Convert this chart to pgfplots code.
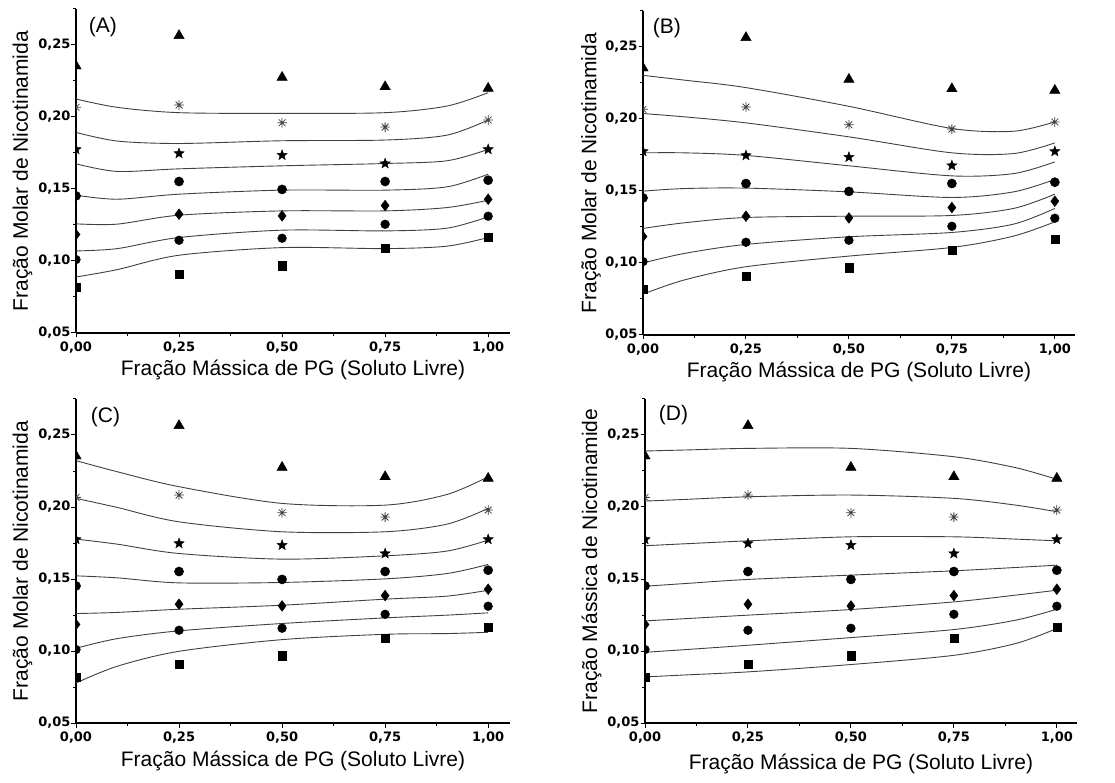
\documentclass[border=0pt]{standalone}
\usepackage{fontspec}
\setmainfont{Liberation Sans}
\newfontfamily\dejavu{DejaVu Sans}
\usepackage{pgfplots}
\usepackage{pgfplotstable}
\pgfplotsset{compat=1.18}
\usetikzlibrary{plotmarks}

% filled five-pointed star
\pgfdeclareplotmark{fstar}{%
  \pgfpathmoveto{\pgfpointpolar{90}{\pgfplotmarksize}}%
  \pgfpathlineto{\pgfpointpolar{126}{0.42\pgfplotmarksize}}%
  \pgfpathlineto{\pgfpointpolar{162}{\pgfplotmarksize}}%
  \pgfpathlineto{\pgfpointpolar{198}{0.42\pgfplotmarksize}}%
  \pgfpathlineto{\pgfpointpolar{234}{\pgfplotmarksize}}%
  \pgfpathlineto{\pgfpointpolar{270}{0.42\pgfplotmarksize}}%
  \pgfpathlineto{\pgfpointpolar{306}{\pgfplotmarksize}}%
  \pgfpathlineto{\pgfpointpolar{342}{0.42\pgfplotmarksize}}%
  \pgfpathlineto{\pgfpointpolar{18}{\pgfplotmarksize}}%
  \pgfpathlineto{\pgfpointpolar{54}{0.42\pgfplotmarksize}}%
  \pgfpathclose
  \pgfusepathqfillstroke
}
% eight-ray asterisk
\pgfdeclareplotmark{ast8}{%
  \pgfpathmoveto{\pgfpointpolar{0}{\pgfplotmarksize}}\pgfpathlineto{\pgfpointpolar{180}{\pgfplotmarksize}}%
  \pgfpathmoveto{\pgfpointpolar{90}{\pgfplotmarksize}}\pgfpathlineto{\pgfpointpolar{270}{\pgfplotmarksize}}%
  \pgfpathmoveto{\pgfpointpolar{45}{\pgfplotmarksize}}\pgfpathlineto{\pgfpointpolar{225}{\pgfplotmarksize}}%
  \pgfpathmoveto{\pgfpointpolar{135}{\pgfplotmarksize}}\pgfpathlineto{\pgfpointpolar{315}{\pgfplotmarksize}}%
  \pgfusepathqstroke
}

% experimental points (same in every panel)
\pgfplotstableread{
x    tri    ast    sta    cu     dia    cl     sq
0    0.2354 0.2067 0.1775 0.1452 0.1184 0.1010 0.0820
0.25 0.2565 0.2083 0.1747 0.1552 0.1325 0.1144 0.0906
0.5  0.2275 0.1960 0.1735 0.1497 0.1313 0.1158 0.0968
0.75 0.2210 0.1930 0.1677 0.1552 0.1385 0.1255 0.1089
1    0.2199 0.1979 0.1775 0.1561 0.1429 0.1311 0.1165
}\pts

% model curves, one table per panel
\pgfplotstableread{
x    l1     l2     l3     l4     l5     l6     l7
0    0.2125 0.1893 0.1675 0.1457 0.1258 0.1070 0.0889
0.1  0.2067 0.1833 0.1622 0.1429 0.1256 0.1086 0.0940
0.25 0.2030 0.1816 0.1640 0.1464 0.1318 0.1163 0.1040
0.5  0.2025 0.1835 0.1661 0.1492 0.1348 0.1214 0.1093
0.75 0.2030 0.1840 0.1677 0.1492 0.1348 0.1209 0.1086
0.9  0.2076 0.1874 0.1696 0.1515 0.1371 0.1228 0.1103
1    0.2169 0.1979 0.1775 0.1603 0.1422 0.1307 0.1163
}\tabA
\pgfplotstableread{
x    l1     l2     l3     l4     l5     l6     l7
0    0.2303 0.2038 0.1765 0.1499 0.1240 0.1000 0.0784
0.1  0.2270 0.2015 0.1765 0.1517 0.1279 0.1066 0.0882
0.25 0.2218 0.1973 0.1747 0.1520 0.1316 0.1129 0.0974
0.5  0.2088 0.1876 0.1675 0.1494 0.1325 0.1182 0.1048
0.75 0.1934 0.1765 0.1605 0.1455 0.1330 0.1212 0.1108
0.9  0.1915 0.1760 0.1621 0.1494 0.1379 0.1270 0.1187
1    0.1980 0.1834 0.1702 0.1580 0.1478 0.1379 0.1286
}\tabB
\pgfplotstableread{
x    l1     l2     l3     l4     l5     l6     l7
0    0.2322 0.2060 0.1777 0.1522 0.1260 0.1019 0.0778
0.1  0.2245 0.1997 0.1742 0.1508 0.1268 0.1086 0.0894
0.25 0.2141 0.1897 0.1677 0.1473 0.1290 0.1140 0.0998
0.5  0.2025 0.1828 0.1638 0.1476 0.1318 0.1191 0.1079
0.75 0.2013 0.1828 0.1661 0.1501 0.1360 0.1230 0.1116
0.9  0.2087 0.1881 0.1694 0.1538 0.1381 0.1249 0.1121
1    0.2210 0.1990 0.1770 0.1601 0.1422 0.1265 0.1130
}\tabC
\pgfplotstableread{
x    l1     l2     l3     l4     l5     l6     l7
0    0.2389 0.2041 0.1731 0.1450 0.1209 0.0991 0.0820
0.1  0.2396 0.2053 0.1745 0.1469 0.1225 0.1010 0.0834
0.25 0.2407 0.2071 0.1765 0.1497 0.1249 0.1040 0.0855
0.5  0.2407 0.2083 0.1793 0.1527 0.1288 0.1093 0.0906
0.75 0.2349 0.2060 0.1793 0.1557 0.1341 0.1149 0.0970
0.9  0.2273 0.2013 0.1777 0.1580 0.1388 0.1214 0.1052
1    0.2192 0.1967 0.1765 0.1596 0.1422 0.1290 0.1156
}\tabD

\newcommand\labfont{\fontsize{21}{24}\selectfont}

\pgfplotsset{
  panel/.style={
    scale only axis, anchor=south west,
    height=324pt,
    xmin=0, ymin=0.05, ymax=0.275,
    axis x line=bottom, axis y line=left,
    axis line style={-, line width=1.5pt},
    xtick={0,0.25,0.5,0.75,1},
    ytick={0.05,0.1,0.15,0.2,0.25},
    minor xtick={0.125,0.375,0.625,0.875},
    minor ytick={0.075,0.125,0.175,0.225,0.275},
    tick align=outside,
    major tick length=4.5pt, minor tick length=3pt,
    every tick/.style={black, line width=1pt},
    ticklabel style={font=\dejavu\bfseries\fontsize{13}{14}\selectfont},
    yticklabel style={xshift=2.5pt},
    xticklabel style={yshift=-1pt},
    /pgf/number format/.cd, use comma, fixed, fixed zerofill, precision=2,
      assume math mode=true, /pgfplots/.cd,
    clip marker paths=true,
  },
  wide/.style={width=434pt, xmax=1.053},
  narrow/.style={width=432pt, xmax=1.049},
  xlab/.style={every axis x label/.style={at={(axis description cs:0.5,#1)}, anchor=base, font=\labfont}},
  ylab/.style={every axis y label/.style={at={(axis description cs:#1,0.5)}, rotate=90, anchor=base, font=\labfont}},
  curve/.style={no markers, smooth, tension=0.5, color=black!75, line width=0.9pt},
}

\newcommand\points{%
  \addplot[only marks, mark=triangle*, mark size=6pt, black] table[x=x,y=tri]{\pts};
  \addplot[only marks, mark=ast8, mark size=4.8pt, black!75, line width=0.8pt] table[x=x,y=ast]{\pts};
  \addplot[only marks, mark=fstar, mark size=5.4pt, black] table[x=x,y=sta]{\pts};
  \addplot[only marks, mark=*, mark size=4.6pt, black] table[x=x,y=cu]{\pts};
  \addplot[only marks, mark=diamond*, mark size=5.4pt, black] table[x=x,y=dia]{\pts};
  \addplot[only marks, mark=*, mark size=4.4pt, black] table[x=x,y=cl]{\pts};
  \addplot[only marks, mark=square*, mark size=4.1pt, black] table[x=x,y=sq]{\pts};
}

\begin{document}
\begin{tikzpicture}
\path[use as bounding box] (0,0) rectangle (1115pt,782pt);

% (A)
\begin{axis}[panel, wide, at={(76pt,449pt)}, xlab=-0.13, ylab=-0.111,
  xlabel={Fração Mássica de PG (Soluto Livre)},
  ylabel={Fração Molar de Nicotinamida}]
\pgfplotsinvokeforeach{1,...,7}{\addplot[curve] table[x=x,y=l#1]{\tabA};}
\points
\node[font=\labfont] at (axis description cs:0.062,0.945) {(A)};
\end{axis}

% (B)
\begin{axis}[panel, narrow, at={(643pt,447pt)}, xlab=-0.13, ylab=-0.108,
  xlabel={Fração Mássica de PG (Soluto Livre)},
  ylabel={Fração Molar de Nicotinamida}]
\pgfplotsinvokeforeach{1,...,7}{\addplot[curve] table[x=x,y=l#1]{\tabB};}
\points
\node[font=\labfont] at (axis description cs:0.055,0.948) {(B)};
\end{axis}

% (C)
\begin{axis}[panel, wide, at={(76pt,59pt)}, xlab=-0.135, ylab=-0.111,
  xlabel={Fração Mássica de PG (Soluto Livre)},
  ylabel={Fração Molar de Nicotinamida}]
\pgfplotsinvokeforeach{1,...,7}{\addplot[curve] table[x=x,y=l#1]{\tabC};}
\points
\node[font=\labfont] at (axis description cs:0.068,0.943) {(C)};
\end{axis}

% (D)
\begin{axis}[panel, narrow, at={(645pt,59pt)}, xlab=-0.145, ylab=-0.111,
  xlabel={Fração Mássica de PG (Soluto Livre)},
  ylabel={Fração Mássica de Nicotinamide}]
\pgfplotsinvokeforeach{1,...,7}{\addplot[curve] table[x=x,y=l#1]{\tabD};}
\points
\node[font=\labfont] at (axis description cs:0.066,0.949) {(D)};
\end{axis}
\end{tikzpicture}
\end{document}
